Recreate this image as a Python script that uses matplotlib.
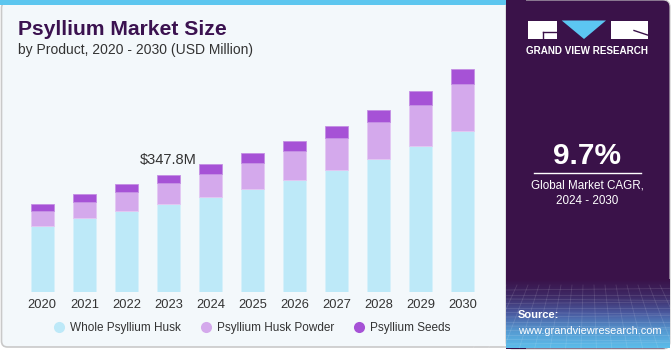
import matplotlib.pyplot as plt
import numpy as np
from matplotlib.patches import FancyBboxPatch, Rectangle, Polygon
from matplotlib.lines import Line2D
from matplotlib.colors import LinearSegmentedColormap

# ---------------- data ----------------
years = ['2020', '2021', '2022', '2023', '2024', '2025', '2026', '2027', '2028', '2029', '2030']
whole_husk = [196, 218, 241, 260, 282, 305, 331, 361, 395, 433, 478]
husk_powder = [43, 48, 55, 62, 69, 77, 86, 97, 109, 123, 140]
seeds = [21, 24, 25, 26, 29, 29, 32, 34, 36, 40, 44]
series_names = ['Whole Psyllium Husk', 'Psyllium Husk Powder', 'Psyllium Seeds']
annot_index = 3
annot_text = '$347.8M'
cagr_text = '9.7%'

# ---------------- style ----------------
colors = ['#bde9f8', '#d4a9ec', '#a652d6']
edge_colors = ['#d6f1fb', '#e3c8f3', '#c48fe4']
FONT = 'Liberation Sans'
plt.rcParams['font.family'] = [FONT, 'DejaVu Sans']

W, H = 671, 350
fig = plt.figure(figsize=(W / 100, H / 100), dpi=100)
fig.patch.set_facecolor('white')

bg = fig.add_axes([0, 0, 1, 1])
bg.set_xlim(0, W)
bg.set_ylim(H, 0)
bg.axis('off')

# left panel
bg.add_patch(FancyBboxPatch((1.5, 2), 520, 345, boxstyle='round,pad=0,rounding_size=6',
                            facecolor='#f3f8fb', edgecolor='#c9c9c9', lw=1.2, zorder=0))
bg.add_patch(Rectangle((0, 0), 510, 5, facecolor='#5cc6ef', edgecolor='none', zorder=1))

# right dark panel
dark = '#3a1249'
bg.add_patch(FancyBboxPatch((506, 0), 164, 349, boxstyle='round,pad=0,rounding_size=7',
                            facecolor=dark, edgecolor='#c9c9c9', lw=0.8, zorder=2))
bg.add_patch(Rectangle((506, 0), 20, 349, facecolor=dark, edgecolor='none', zorder=2))
cmap = LinearSegmentedColormap.from_list('g', [dark, '#3e2a66', '#4a5aa0', '#5598d0', '#5cbdea'])
grad = np.linspace(0, 1, 100).reshape(-1, 1)
bg.imshow(grad, cmap=cmap, extent=[506, 669.5, 348.5, 280], aspect='auto', zorder=3,
          interpolation='bicubic')
# faint grid texture
for i in range(14):
    yy = 290 + i * 4.5
    bg.plot([506, 669.5], [yy, yy + (i % 3 - 1) * 1.5], color='white', alpha=0.12, lw=0.6, zorder=3.5)
for i in range(16):
    xx = 506 + i * 11
    bg.plot([xx, xx + (xx - 588) * 0.4], [285, 348], color='white', alpha=0.12, lw=0.6, zorder=3.5)

# logo
bg.add_patch(Rectangle((527.5, 20.5), 29.5, 18.5, facecolor='white', edgecolor='none', zorder=4))
bg.plot([543, 557], [32, 32], color=dark, lw=1.0, zorder=5)
bg.plot([543, 543], [32, 38], color=dark, lw=1.0, zorder=5)
bg.add_patch(Polygon([[561.7, 20.5], [606, 20.5], [584, 39]], closed=True,
                     facecolor='#5cc6f2', edgecolor='none', zorder=4))
bg.add_patch(Rectangle((611, 20.5), 36.5, 18.5, facecolor='white', edgecolor='none', zorder=4))
bg.plot([634, 647.5], [30.5, 35], color=dark, lw=1.0, zorder=5)
bg.text(587.5, 51, 'GRAND VIEW RESEARCH', color='white', fontsize=7.1, fontweight='bold',
        ha='center', va='center', zorder=5)

# CAGR
bg.text(587.5, 156, cagr_text, color='white', fontsize=21.5, fontweight='bold',
        ha='center', va='center', zorder=5)
bg.plot([534, 641], [173.3, 173.3], color='white', lw=1.0, zorder=5)
bg.text(587.5, 185.5, 'Global Market CAGR,', color='white', fontsize=8.4,
        ha='center', va='center', zorder=5)
bg.text(587.5, 201.5, '2024 - 2030', color='white', fontsize=8.4,
        ha='center', va='center', zorder=5)
bg.text(518, 315.5, 'Source:', color='white', fontsize=8, fontweight='bold',
        ha='left', va='center', zorder=5)
bg.text(518, 330.5, 'www.grandviewresearch.com', color='white', fontsize=7.9,
        ha='left', va='center', zorder=5)

# title
bg.text(17.5, 35, 'Psyllium Market Size', color='#3b1250', fontsize=15.2, fontweight='bold',
        ha='left', va='baseline', zorder=5)
bg.text(17.5, 54, 'by Product, 2020 - 2030 (USD Million)', color='#333333', fontsize=10,
        ha='left', va='baseline', zorder=5)

# ---------------- chart ----------------
ax_left, ax_right = 21.3, 483.5
ax_bottom, ax_top = 291.7, 60.0
ax = fig.add_axes([ax_left / W, (H - ax_bottom) / H, (ax_right - ax_left) / W, (ax_bottom - ax_top) / H])
ax.set_facecolor('none')
x = np.arange(len(years))
bw = 0.55
bottom = np.zeros(len(years))
for vals, c, ec, name in zip([whole_husk, husk_powder, seeds], colors, edge_colors, series_names):
    ax.bar(x, vals, bw, bottom=bottom, color=c, edgecolor=ec, linewidth=0.6, label=name, zorder=2)
    bottom = bottom + np.array(vals)

totals = bottom
ax.annotate(annot_text, xy=(x[annot_index], totals[annot_index]), xytext=(0, 8),
            textcoords='offset points', ha='center', va='baseline', fontsize=10.5, color='#333333')

ax.set_xlim(-0.5, len(years) - 0.5)
ax.set_ylim(0, 689)
ax.set_xticks(x)
ax.set_xticklabels(years, fontsize=9.3, color='#333333')
ax.tick_params(axis='x', length=0, pad=5)
ax.set_yticks([])
for s in ax.spines.values():
    s.set_visible(False)

handles = [Line2D([0], [0], marker='o', linestyle='none', markersize=8, markerfacecolor=c,
                  markeredgecolor='none') for c in colors]
fig.legend(handles, series_names, loc='center', bbox_to_anchor=(253 / W, 1 - 327.7 / H),
           ncol=3, frameon=False, fontsize=8.5, handlelength=0.6, handletextpad=0.65,
           columnspacing=1.8, labelcolor='#333333', borderpad=0, borderaxespad=0)

fig.savefig('out.png', dpi=100, facecolor=fig.get_facecolor())
